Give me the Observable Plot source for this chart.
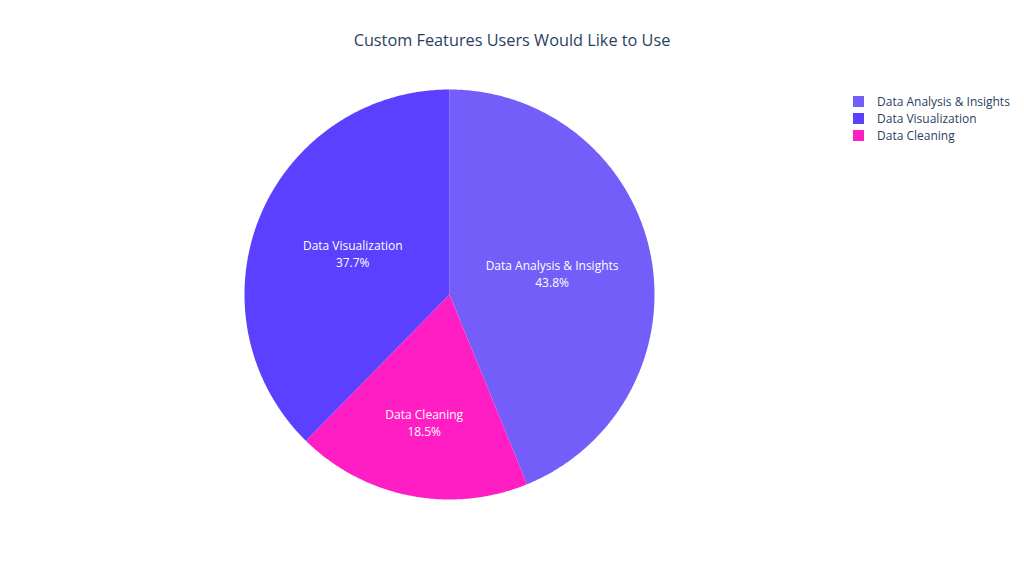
<!DOCTYPE html>
<html><head><meta charset="utf-8">
<script src="https://cdn.jsdelivr.net/npm/d3@7"></script>
<script src="https://cdn.jsdelivr.net/npm/@observablehq/plot@0.6"></script>
<style>
body{margin:0;background:#fff;font-family:"Open Sans",sans-serif;}
#wrap{position:relative;width:1024px;height:570px;overflow:hidden;}
#title{position:absolute;top:29px;left:0;width:1024px;text-align:center;font-size:16.3px;color:#2a3f5f;line-height:22px;}
#chart{position:absolute;left:0;top:0;}
#legend{position:absolute;left:853px;top:93px;font-size:12px;color:#2a3f5f;}
.li{display:flex;align-items:center;height:17px;}
.sw{width:11px;height:11px;margin-right:13px;}
</style></head>
<body><div id="wrap"><div id="chart"></div><div id="title">Custom Features Users Would Like to Use</div><div id="legend"></div></div>
<script>
const title = "Custom Features Users Would Like to Use";
const categories = ["Data Analysis & Insights", "Data Visualization", "Data Cleaning"];
const counts = [71, 61, 30];
const colors = ["#735EF9", "#5C40FF", "#FF1EC4"];
// slice order clockwise from 12 o'clock (as drawn in the reference)
const drawOrder = ["Data Analysis & Insights", "Data Cleaning", "Data Visualization"];

const total = d3.sum(counts);
const rows = drawOrder.map(c => {
  const i = categories.indexOf(c);
  return {category: c, value: counts[i], color: colors[i]};
});
let acc = 0;
for (const r of rows) {
  r.a0 = acc / total * 2 * Math.PI;
  acc += r.value;
  r.a1 = acc / total * 2 * Math.PI;
  r.pct = (r.value / total * 100).toFixed(1) + "%";
}
function sector(a0, a1) {
  const pts = [[0, 0]];
  const n = Math.max(2, Math.ceil((a1 - a0) / 0.01));
  for (let k = 0; k <= n; k++) {
    const a = a0 + (a1 - a0) * k / n;
    pts.push([Math.sin(a), Math.cos(a)]);
  }
  pts.push([0, 0]);
  return pts.reverse();
}
const features = rows.map(r => ({
  type: "Feature",
  properties: r,
  geometry: {type: "Polygon", coordinates: [sector(r.a0, r.a1)]}
}));
const labels = rows.map(r => {
  const m = (r.a0 + r.a1) / 2;
  const rr = r.value / total > 0.3 ? 0.51 : 0.64;
  return {x: rr * Math.sin(m), y: rr * Math.cos(m), name: r.category, pct: r.pct};
});
const domain = {type: "Polygon", coordinates: [sector(0, 2 * Math.PI)]};

const plot = Plot.plot({
  width: 1024,
  height: 570,
  marginTop: 89,
  marginBottom: 71,
  marginLeft: 244,
  marginRight: 370,
  projection: {type: "reflect-y", domain, inset: 0},
  style: {fontFamily: "'Open Sans', sans-serif"},
  marks: [
    Plot.geo(features, {fill: d => d.properties.color, stroke: "none"}),
    Plot.text(labels, {x: "x", y: "y", text: "name", fill: "white", fontSize: 12, dy: -8.5}),
    Plot.text(labels, {x: "x", y: "y", text: "pct", fill: "white", fontSize: 12, dy: 8.5})
  ]
});
document.getElementById("chart").appendChild(plot);

const leg = document.getElementById("legend");
categories.forEach((c, i) => {
  const d = document.createElement("div");
  d.className = "li";
  d.innerHTML = `<span class="sw" style="background:${colors[i]}"></span><span>${c}</span>`;
  leg.appendChild(d);
});
</script>
</body></html>
